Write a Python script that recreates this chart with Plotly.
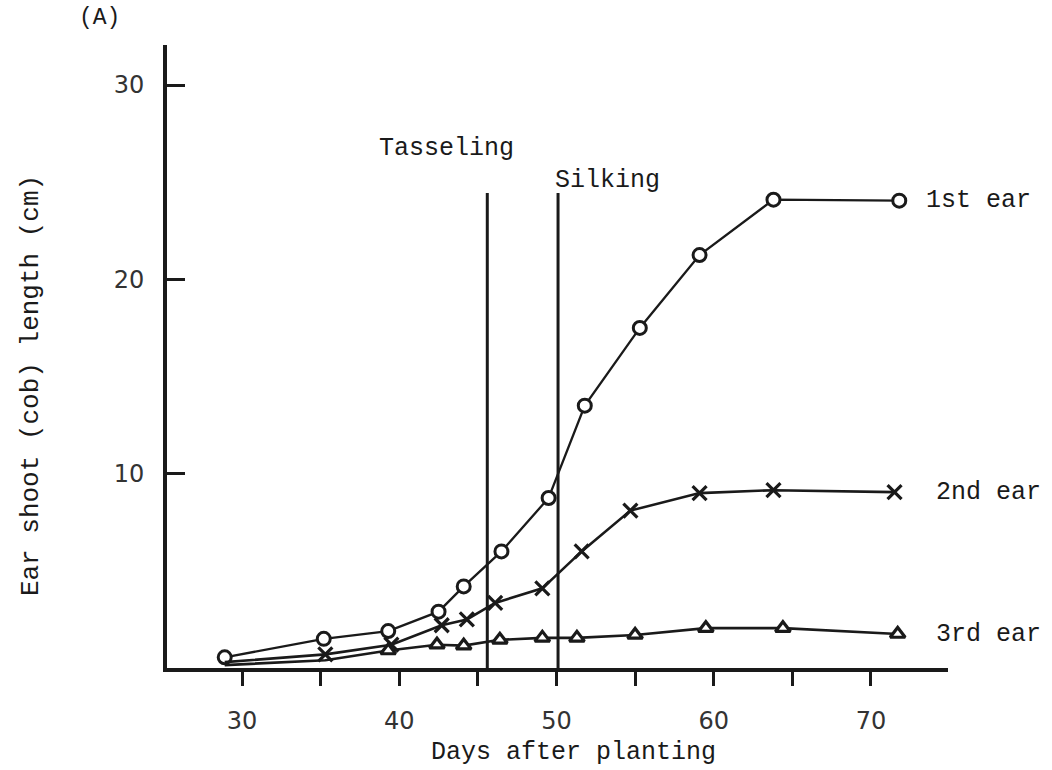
import plotly.graph_objects as go

# ---- data ----
days_1st = [28.9, 35.2, 39.3, 42.5, 44.1, 46.5, 49.5, 51.8, 55.3, 59.1, 63.8, 71.8]
len_1st = [0.55, 1.5, 1.9, 2.9, 4.2, 6.0, 8.75, 13.5, 17.5, 21.25, 24.1, 24.05]

days_2nd = [28.9, 35.3, 39.5, 42.7, 44.3, 46.1, 49.1, 51.6, 54.7, 59.1, 63.8, 71.5]
len_2nd = [0.3, 0.7, 1.2, 2.2, 2.5, 3.35, 4.1, 6.0, 8.1, 9.0, 9.15, 9.05]

days_3rd = [28.9, 35.3, 39.3, 42.4, 44.1, 46.4, 49.1, 51.3, 55.0, 59.5, 64.4, 71.7]
len_3rd = [0.15, 0.4, 0.9, 1.2, 1.15, 1.45, 1.55, 1.55, 1.7, 2.05, 2.05, 1.75]

series_names = ["1st ear", "2nd ear", "3rd ear"]
stage_names = ["Tasseling", "Silking"]
stage_days = [45.6, 50.1]
stage_top = 24.45

x_ticks_major = [30, 40, 50, 60, 70]
y_ticks = [10, 20, 30]

INK = "#1a1a1a"
MONO = "Liberation Mono, Courier New, monospace"
SANS = "DejaVu Sans, Arial, sans-serif"

fig = go.Figure()

def hide_first(n, k, size):
    return [0] * k + [size] * (n - k)

fig.add_trace(go.Scatter(
    x=days_1st, y=len_1st, mode="lines+markers", name=series_names[0],
    line=dict(color=INK, width=2.3),
    marker=dict(symbol="circle", size=13, color="white", opacity=1,
                line=dict(color=INK, width=3)),
    cliponaxis=False,
))
fig.add_trace(go.Scatter(
    x=days_2nd, y=len_2nd, mode="lines+markers", name=series_names[1],
    line=dict(color=INK, width=2.6),
    marker=dict(symbol="x-thin", size=hide_first(len(days_2nd), 1, 14), opacity=1,
                color=INK, line=dict(color=INK, width=3.2)),
    cliponaxis=False,
))
fig.add_trace(go.Scatter(
    x=days_3rd, y=len_3rd, mode="lines+markers", name=series_names[2],
    line=dict(color=INK, width=2.6),
    marker=dict(symbol="triangle-up", size=hide_first(len(days_3rd), 2, 13), opacity=1,
                color="white", line=dict(color=INK, width=3.2)),
    cliponaxis=False,
))

# stage lines
for d in stage_days:
    fig.add_shape(type="line", x0=d, x1=d, y0=0, y1=stage_top, xref="x", yref="y",
                  line=dict(color=INK, width=3))

annots = []
annots.append(dict(x=43.0, y=26.75, xref="x", yref="y", text=stage_names[0],
                   showarrow=False, xanchor="center", yanchor="middle",
                   font=dict(family=MONO, size=25, color=INK)))
annots.append(dict(x=49.8, y=25.1, xref="x", yref="y", text=stage_names[1],
                   showarrow=False, xanchor="left", yanchor="middle",
                   font=dict(family=MONO, size=25, color=INK)))
label_pos = [(73.4, len_1st[-1]), (74.0, len_2nd[-1]), (74.0, 1.7)]
for name, (lx, ly) in zip(series_names, label_pos):
    annots.append(dict(x=lx, y=ly, xref="x", yref="y", text=name, showarrow=False,
                       xanchor="left", yanchor="middle",
                       font=dict(family=MONO, size=25, color=INK)))
annots.append(dict(x=0.52, y=-0.135, xref="paper", yref="paper", text="Days after planting",
                   showarrow=False, xanchor="center", yanchor="middle",
                   font=dict(family=MONO, size=25, color=INK)))
annots.append(dict(x=-0.175, y=0.453, xref="paper", yref="paper",
                   text="Ear shoot (cob) length (cm)", textangle=-90,
                   showarrow=False, xanchor="center", yanchor="middle",
                   font=dict(family=MONO, size=26, color=INK)))
annots.append(dict(x=-0.086, y=1.043, xref="paper", yref="paper", text="(A)",
                   showarrow=False, xanchor="center", yanchor="middle",
                   font=dict(family=MONO, size=23, color=INK)))

fig.update_layout(
    width=1052, height=770,
    margin=dict(l=167, r=104, t=45, b=102),
    paper_bgcolor="white", plot_bgcolor="white",
    showlegend=False,
    annotations=annots,
    xaxis=dict(
        range=[25.23, 74.9], showgrid=False, zeroline=False,
        showline=True, linecolor=INK, linewidth=4,
        tickmode="array", tickvals=x_ticks_major, ticktext=[str(v) for v in x_ticks_major],
        ticks="outside", ticklen=14, tickwidth=3, tickcolor=INK,
        minor=dict(dtick=5, tick0=30, ticks="outside", ticklen=14, tickwidth=3, tickcolor=INK),
        ticklabelstandoff=14,
        tickfont=dict(family=SANS, size=24, color="#333"),
    ),
    yaxis=dict(
        range=[0, 32.06], showgrid=False, zeroline=False,
        showline=True, linecolor=INK, linewidth=4,
        tickmode="array", tickvals=y_ticks, ticktext=[str(v) for v in y_ticks],
        ticks="inside", ticklen=18, tickwidth=3, tickcolor=INK,
        ticklabelstandoff=14,
        tickfont=dict(family=SANS, size=24, color="#333"),
    ),
)

fig.write_html("out.html")
